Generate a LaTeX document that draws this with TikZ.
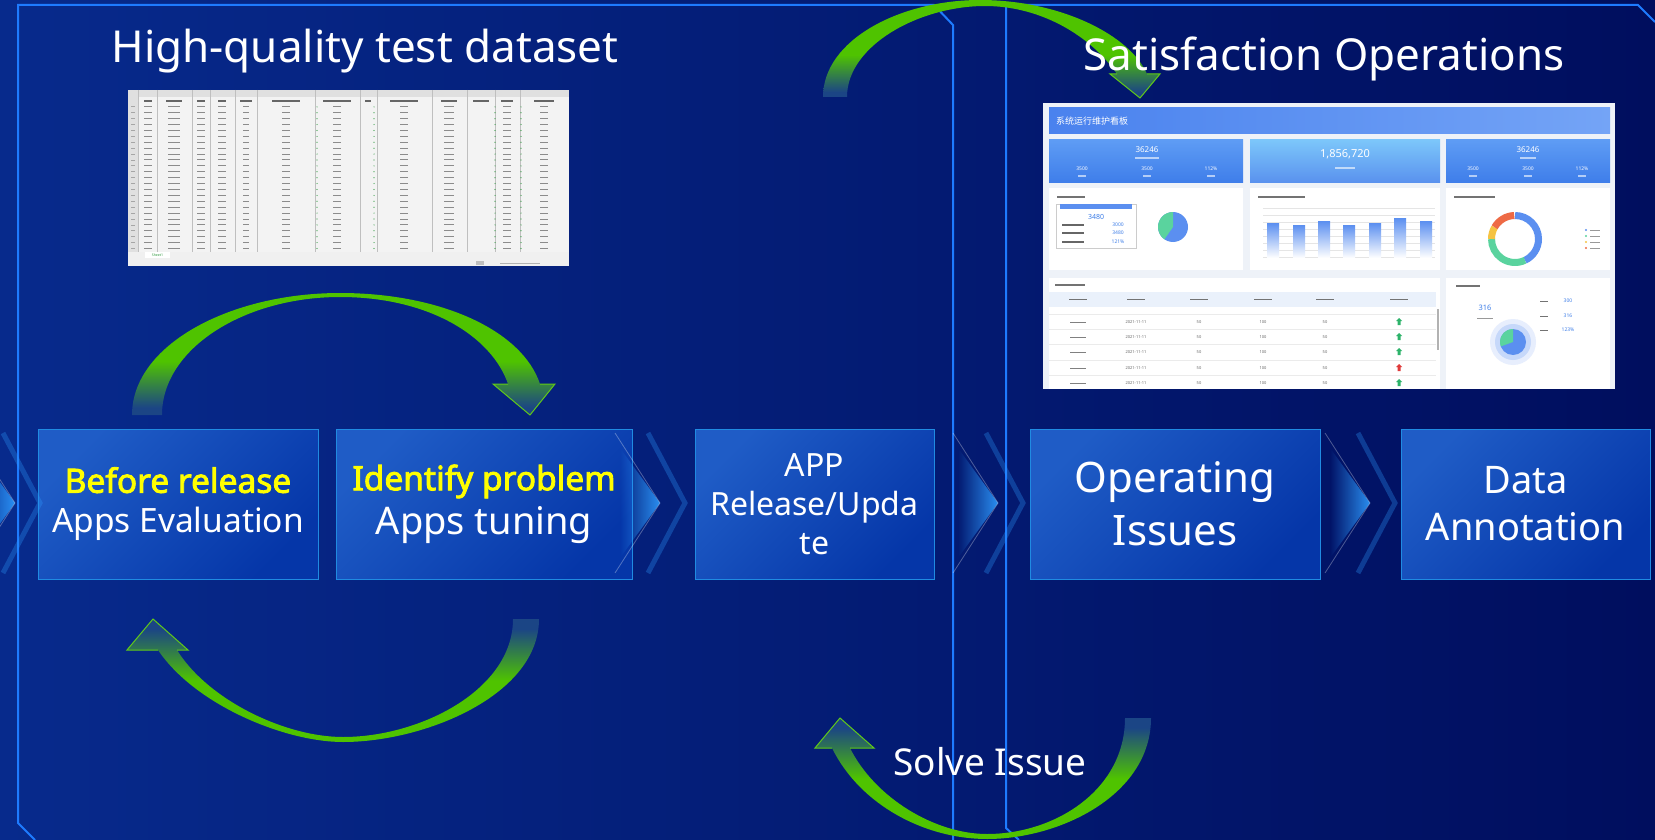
\documentclass[tikz,border=0pt]{standalone}
\usepackage{fontspec}
\setmainfont{Noto Sans}[BoldFont={Noto Sans}, BoldFeatures={FakeBold=2.5}]
\newfontfamily\cjk{Noto Sans CJK SC}
\usepackage{xcolor}
\usepackage{tikz}
\usetikzlibrary{positioning, fadings}
\definecolor{bgleft}{HTML}{072A8C}
\definecolor{bgmid}{HTML}{022A91}
\definecolor{bgright}{HTML}{000E5E}
\definecolor{frameblue}{HTML}{1E7BFF}
\definecolor{boxlight}{HTML}{1F5CC6}
\definecolor{boxdark}{HTML}{0536A8}
\definecolor{boxedge}{HTML}{29A8F5}
\definecolor{hiyellow}{HTML}{FFFF00}
\definecolor{arcgreen}{HTML}{4FC300}
\definecolor{arcend}{HTML}{1B4585}
\definecolor{chevbright}{HTML}{2E9BFF}
\definecolor{sheetbg}{HTML}{F3F3F3}
\definecolor{sheetgreen}{HTML}{2E9A3E}
\definecolor{boardbg}{HTML}{EEF2F8}
\definecolor{boardhead}{HTML}{4A82EE}
\definecolor{boardheadlight}{HTML}{74A4F6}
\definecolor{cardtop}{HTML}{5E9CF4}
\definecolor{cardbottom}{HTML}{3F7EEA}
\definecolor{cardmidtop}{HTML}{7CC6FA}
\definecolor{cardmidbottom}{HTML}{5A92EE}
\definecolor{pieblue}{HTML}{5B8FF0}
\definecolor{piegreen}{HTML}{5AD39E}
\definecolor{pieyellow}{HTML}{F5C342}
\definecolor{pieorange}{HTML}{EE6A45}
\definecolor{numblue}{HTML}{3F7FE8}
\definecolor{tablehead}{HTML}{EAF1FB}
\definecolor{markgreen}{HTML}{2DB36A}
\definecolor{markred}{HTML}{E03A3A}
\pgfdeclareverticalshading{arcfall}{100bp}{color(0bp)=(arcend); color(28bp)=(arcend); color(47bp)=(arcgreen); color(100bp)=(arcgreen)}
\pgfdeclareverticalshading{arcrise}{100bp}{color(0bp)=(arcgreen); color(50bp)=(arcgreen); color(71bp)=(arcend); color(100bp)=(arcend)}

\begin{document}
\begin{tikzpicture}[x=1pt, y=-1pt,
    panelline/.style={draw=frameblue, line width=2pt},
    stage/.style={draw=boxedge!75!boxdark, line width=1pt, top color=boxlight, bottom color=boxdark,
                  shading angle=45, text=white, align=center, inner sep=0pt},
    headline/.style={text=white, font=\fontsize{44}{50}\selectfont, anchor=base},
    arcedge/.style={draw=arcgreen!90!white, line width=1pt, line join=miter},
    chevline/.style={white, opacity=0.3, line width=0.8pt},
    chevouter/.style={chevbright, opacity=0.3, line width=5pt},
    titlebar/.style={black!55, line width=1.6pt},
    tinywhite/.style={text=white, inner sep=0pt, font=\fontsize{5}{6}\selectfont},
    tinygray/.style={text=black!60, inner sep=0pt, font=\fontsize{4}{5}\selectfont},
    tinyblue/.style={text=numblue, inner sep=0pt, font=\fontsize{5}{6}\selectfont}]
\useasboundingbox (0,0) rectangle (1655,840);
\shade[left color=bgleft, middle color=bgmid, right color=bgright] (0,0) rectangle (1655,840);

% frames of the two halves
\draw[panelline] (35,840) -- (18,823) -- (18,5) -- (934,5) -- (953,25) -- (953,840);
\draw[panelline] (1019,840) -- (1006,828) -- (1006,5) -- (1638,5) -- (1655,22);

% spreadsheet
\node[fill=sheetbg, minimum width=441pt, minimum height=176pt, inner sep=0pt] (sheet) at (348.5,178) {};
\fill[black!12] (128,90) rectangle (569,97);
\fill[black!12] (128,97) rectangle (138,252);
\foreach \cx in {138,157,192,210,235,257,315,360,377,432,467,495,520}
  \draw[black!25, line width=.4pt] (\cx,90) -- (\cx,252);
\foreach \cx/\w in {148/4,174/8,201/4,222/4,246/6,286/14,337/14,368/3,404/14,449/8,481/8,507/6,544/10}
  \draw[black!60, line width=1.3pt] (\cx-\w,101) -- (\cx+\w,101);
\foreach \r in {1,...,25} {
  \draw[black!35, line width=.8pt] (131,101+\r*5.9) -- (135,101+\r*5.9);
  \foreach \cx/\w in {148/4,174/6,201/4,222/4,246/3,286/4,337/4,404/4,449/5,507/4,544/4}
    \draw[black!45, line width=1pt] (\cx-\w,101+\r*5.9) -- (\cx+\w,101+\r*5.9);
  \foreach \cx in {317,374,495,521}
    \fill[sheetgreen] (\cx,101+\r*5.9) circle[radius=.6];
}
\fill[black!6] (128,252) rectangle (569,266);
\fill[white] (145,252) rectangle (170,258);
\node[inner sep=0pt, text=sheetgreen, font=\fontsize{3.5}{4}\selectfont] (sheettab) at (157.5,255) {Sheet1};
\fill[black!25] (476,261) rectangle (484,265);
\draw[black!30, line width=.5pt] (500,263) -- (540,263);

% dashboard
\node[fill=boardbg, minimum width=572pt, minimum height=286pt, inner sep=0pt] (board) at (1329,246) {};
\shade[left color=boardhead, right color=boardheadlight] (1049,108) rectangle (1610,134);
\node[anchor=west, text=white, inner sep=0pt, font=\cjk\fontsize{9}{10}\selectfont] (boardtitle) at (1056,121) {系统运行维护看板};
\shade[top color=cardtop, bottom color=cardbottom] (1049,140) rectangle (1243,182);
\shade[top color=cardmidtop, bottom color=cardmidbottom] (1250,140) rectangle (1440,182);
\shade[top color=cardtop, bottom color=cardbottom] (1446,140) rectangle (1610,182);
\node[tinywhite, font=\fontsize{8}{9}\selectfont] (card1) at (1147,150) {36246};
\node[tinywhite, font=\fontsize{11}{12}\selectfont] (card2) at (1345,154) {1,856,720};
\node[tinywhite, font=\fontsize{8}{9}\selectfont] (card3) at (1528,150) {36246};
\foreach \cx/\lab [count=\k] in {1082/3500,1147/3500,1211/112\%,1473/3500,1528/3500,1582/112\%} {
  \node[tinywhite] (stat\k) at (\cx,169) {\lab};
  \draw[white, opacity=.6, line width=1.2pt] (\cx-4,176) -- (\cx+4,176);
}
\draw[white, opacity=.6, line width=1.2pt] (1135,158) -- (1159,158);
\draw[white, opacity=.6, line width=1.2pt] (1335,168) -- (1355,168);
\draw[white, opacity=.6, line width=1.2pt] (1520,158) -- (1536,158);
\fill[white] (1049,188) rectangle (1243,270);
\fill[white] (1250,188) rectangle (1440,270);
\fill[white] (1446,188) rectangle (1610,270);
\draw[titlebar] (1057,197) -- (1085,197);
\draw[titlebar] (1258,197) -- (1305,197);
\draw[titlebar] (1454,197) -- (1495,197);
% panel with kpi and pie
\draw[black!20, fill=white] (1056,204) rectangle (1136,248);
\fill[pieblue] (1060,204) rectangle (1132,209);
\node[tinyblue, font=\fontsize{7}{8}\selectfont] (kpi) at (1096,217) {3480};
\foreach \ry/\lab [count=\k] in {225/3000,233/3480,242/121\%} {
  \draw[black!60, line width=1.1pt] (1062,\ry) -- (1084,\ry);
  \node[tinyblue] (kpirow\k) at (1118,\ry) {\lab};
}
\fill[pieblue] (1173,227) circle[radius=15];
\fill[piegreen] (1173,227) -- ++(-90:15) arc[start angle=-90, end angle=-235, radius=15] -- cycle;
% bar chart
\foreach \gy in {208,215,...,257}
  \draw[black!10, line width=.4pt] (1263,\gy) -- (1435,\gy);
\foreach \bx/\by in {1273/223,1299/225,1324/221,1349/225,1375/223,1400/218,1426/221}
  \shade[top color=pieblue, bottom color=white] (\bx-6,\by) rectangle (\bx+6,258);
% donut
\foreach \a/\b/\col in {-90/65/pieblue,65/180/piegreen,180/210/pieyellow,210/268/pieorange}
  \draw[\col, line width=7pt] (1515,239) ++(\a:23.5) arc[start angle=\a, end angle=\b, radius=23.5];
\foreach \col [count=\k] in {pieblue,piegreen,pieyellow,pieorange} {
  \fill[\col] (1586,224+\k*6) circle[radius=1.2];
  \draw[black!40, line width=1pt] (1590,224+\k*6) -- (1600,224+\k*6);
}
% table
\fill[white] (1049,278) rectangle (1440,389);
\fill[white] (1446,278) rectangle (1610,389);
\draw[titlebar] (1055,285) -- (1085,285);
\draw[titlebar] (1456,286) -- (1480,286);
\fill[tablehead] (1049,292) rectangle (1436,307);
\foreach \cx in {1078,1136,1199,1263,1325,1399}
  \draw[black!55, line width=1.2pt] (\cx-9,299.5) -- (\cx+9,299.5);
\foreach \ry/\mk [count=\k] in {322/markgreen,337/markgreen,352/markgreen,368/markred,383/markgreen} {
  \draw[black!8] (1049,\ry-7.5) -- (1436,\ry-7.5);
  \draw[black!50, line width=1pt] (1070,\ry) -- (1086,\ry);
  \node[tinygray] (date\k) at (1136,\ry) {2021-11-11};
  \node[tinygray] (total\k) at (1199,\ry) {50};
  \node[tinygray] (views\k) at (1263,\ry) {100};
  \node[tinygray] (daily\k) at (1325,\ry) {50};
  \fill[\mk] (1397.5,\ry+3) rectangle (1400.5,\ry-1) (1396,\ry-1) -- (1399,\ry-4) -- (1402,\ry-1) -- cycle;
}
\fill[black!30] (1437,309) rectangle (1439,350);
\node[tinyblue, font=\fontsize{7.5}{8}\selectfont] (optimised) at (1485,308) {316};
\draw[black!40, line width=1pt] (1477,318) -- (1493,318);
\foreach \ry/\lab [count=\k] in {301/300,316/316,330/123\%} {
  \draw[black!55, line width=1pt] (1540,\ry) -- (1548,\ry);
  \node[tinyblue] (ratio\k) at (1568,\ry) {\lab};
}
\fill[pieblue!15] (1513,342) circle[radius=23];
\fill[pieblue!35] (1513,342) circle[radius=18];
\fill[pieblue] (1513,342) circle[radius=13];
\fill[piegreen] (1513,342) -- ++(-90:13) arc[start angle=-90, end angle=-200, radius=13] -- cycle;

% process boxes
\node[stage, minimum width=280pt, minimum height=150pt, font=\fontsize{33.5}{40}\selectfont] (evaluate) at (178,504)
  {{\fontsize{33.5}{40}\selectfont\bfseries\color{hiyellow}Before release}\\Apps Evaluation};
\node[stage, minimum width=296pt, minimum height=150pt, font=\fontsize{38}{44}\selectfont, right=17pt of evaluate] (tuning)
  {{\fontsize{33.5}{44}\selectfont\bfseries\color{hiyellow}Identify problem}\\Apps tuning};
\node[stage, minimum width=239pt, minimum height=150pt, font=\fontsize{32}{39}\selectfont, right=62pt of tuning] (release)
  {APP\\Release/Upda\\te};
\node[stage, minimum width=290pt, minimum height=150pt, font=\fontsize{42}{53}\selectfont, right=95pt of release] (operating)
  {Operating\\Issues};
\node[stage, minimum width=249pt, minimum height=150pt, font=\fontsize{38}{47}\selectfont, right=80pt of operating] (annotation)
  {Data\\Annotation};

% chevrons between the steps
\foreach \tip in {15,660,998,1370} {
  \fill[chevbright, path fading=west, opacity=0.9] (\tip-40,448) -- (\tip,503) -- (\tip-40,558) -- cycle;
  \draw[chevline] (\tip-45,433) -- (\tip,503) -- (\tip-45,573);
  \draw[chevouter] (\tip-12,433) -- (\tip+25,503) -- (\tip-12,573);
}

% green cycle arrows
\shade[shading=arcfall] (823,97) .. controls (823,40) and (900,0) .. (980,0)
  .. controls (1060,0) and (1130,35) .. (1147,74) -- (1160,74) -- (1140,98) -- (1110,74) -- (1117,74)
  .. controls (1090,35) and (1040,6) .. (985,6) .. controls (920,6) and (847,45) .. (847,97) -- cycle;
\draw[arcedge] (1147,74) -- (1160,74) -- (1140,98) -- (1110,74) -- (1117,74);
\shade[shading=arcfall] (132,415) .. controls (132,345) and (230,293) .. (340,293)
  .. controls (440,293) and (522,330) .. (540,384) -- (555,384) -- (530,415) -- (493,384) -- (508,384)
  .. controls (492,337) and (430,297) .. (340,297) .. controls (245,297) and (162,348) .. (162,415) -- cycle;
\draw[arcedge] (540,384) -- (555,384) -- (530,415) -- (493,384) -- (508,384);
\shade[shading=arcrise] (539,619) .. controls (539,695) and (425,742) .. (343,742)
  .. controls (285,742) and (195,705) .. (158,650) -- (127,650) -- (153,619) -- (188,650) -- (177,650)
  .. controls (208,700) and (285,737) .. (343,737) .. controls (420,737) and (513,690) .. (513,619) -- cycle;
\draw[arcedge] (158,650) -- (127,650) -- (153,619) -- (188,650) -- (177,650);
\shade[shading=arcrise] (1151,718) .. controls (1151,795) and (1060,839) .. (987,839)
  .. controls (925,839) and (860,805) .. (832,748) -- (815,748) -- (840,718) -- (874,748) -- (850,748)
  .. controls (875,798) and (935,834) .. (987,834) .. controls (1055,834) and (1125,790) .. (1125,718) -- cycle;
\draw[arcedge] (832,748) -- (815,748) -- (840,718) -- (874,748) -- (850,748);

% headings
\node[headline] (datasettitle) at (365,63) {High-quality test dataset};
\node[headline] (opstitle) at (1324,71) {Satisfaction Operations};
\node[text=white, anchor=base, font=\fontsize{37}{44}\selectfont] (solve) at (990,775) {Solve Issue};
\end{tikzpicture}
\end{document}
